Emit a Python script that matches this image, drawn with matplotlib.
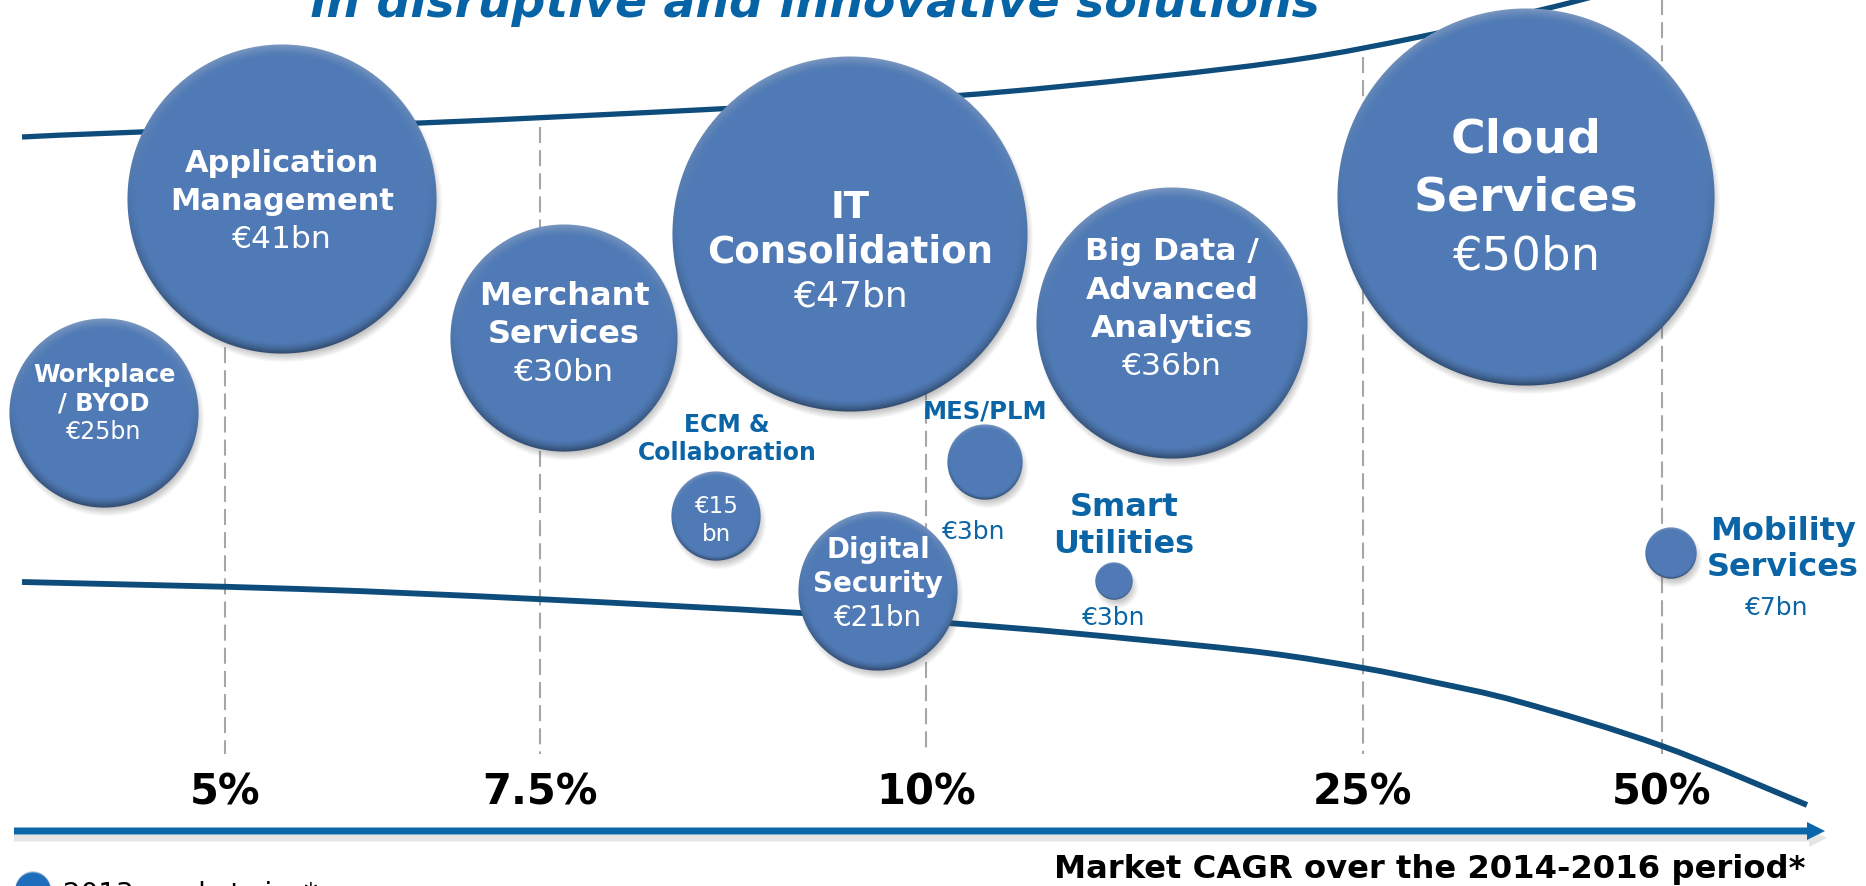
import numpy as np
import matplotlib.pyplot as plt
from matplotlib.patches import FancyArrow, PathPatch
from matplotlib.path import Path

plt.rcParams['font.family'] = ['DejaVu Sans']

W, H = 1866, 887

# ---- data ----
market_names = ['Workplace\n/ BYOD', 'Application\nManagement', 'Merchant\nServices',
                'IT\nConsolidation', 'ECM &\nCollaboration', 'Digital\nSecurity',
                'MES/PLM', 'Big Data /\nAdvanced\nAnalytics', 'Smart\nUtilities',
                'Cloud\nServices', 'Mobility\nServices']
market_size_bn = [25, 41, 30, 47, 15, 21, 3, 36, 3, 50, 7]
cagr_ticks = ['5%', '7.5%', '10%', '25%', '50%']

# ---- layout (slide pixels) ----
tick_x = [225, 540, 926, 1363, 1662]
bubble_x = [104, 282, 564, 850, 716, 878, 985, 1172, 1114, 1526, 1671]
bubble_y = [414, 200, 339, 235, 517, 592, 463, 324, 582, 198, 554]
bubble_r = [95, 155, 114, 178, 45, 80, 38, 136, 19, 189, 26]
# labels inside bubble: first line y, line step, name size, value size
inside = {0: (375, 28.5, 17.4, 17), 1: (163, 38.5, 22, 22.6), 2: (297, 38, 23, 22.6),
          3: (208, 44.5, 26.7, 26), 5: (550, 34, 20, 20), 7: (252, 38.3, 22.6, 22.6),
          9: (140, 58.5, 34, 33.5)}
# labels outside: name x, first line y, step, name size, value x, value y
outside = {4: (727, 425, 28, 17, None, None), 6: (985, 412, 0, 17.5, 974, 532),
           8: (1124, 508, 37, 23, 1114, 618), 10: (1783, 532, 36, 23, 1777, 608)}

upper_x = [22, 140, 420, 717, 952, 1153, 1300, 1419, 1553, 1650]
upper_y = [138, 133, 124, 110, 97, 78, 60, 38, 8, -18]
lower_x = [22, 300, 536, 801, 1000, 1133, 1267, 1363, 1433, 1520, 1662, 1807]
lower_y = [583, 590, 600, 614, 628, 640, 654, 669, 683, 703, 747, 806]

BUBBLE = (0.314, 0.482, 0.714)
BLUE = '#0a64a5'
CURVE = '#0e4c7b'


def smooth_path(xs, ys):
    # catmull-rom through the read points, drawn as bezier segments
    p = np.column_stack([xs, ys]).astype(float)
    verts, codes = [p[0]], [Path.MOVETO]
    for i in range(len(p) - 1):
        p0 = p[i - 1] if i > 0 else p[i]
        p3 = p[i + 2] if i + 2 < len(p) else p[i + 1]
        verts += [p[i] + (p[i + 1] - p0) / 6, p[i + 1] - (p3 - p[i]) / 6, p[i + 1]]
        codes += [Path.CURVE4] * 3
    return Path(verts, codes)


def bubble(ax, cx, cy, r, base, z):
    pad = 14
    half = r + pad
    n = int(2 * half)
    g = np.linspace(-half, half, n)
    gx, gy = np.meshgrid(g, g)
    ext = (cx - half, cx + half, cy + half, cy - half)
    # soft drop shadow
    ds = np.hypot(gx - 3, gy - 6)
    sh = np.zeros((n, n, 4))
    sh[..., :3] = 0.3
    sh[..., 3] = 0.35 * np.clip((r + 3 - ds) / 9, 0, 1)
    ax.imshow(sh, extent=ext, origin='upper', zorder=z, interpolation='bilinear')
    # body with a soft bevel: light top rim, darker bottom rim
    d = np.hypot(gx, gy)
    bw = min(12, 0.12 * r)
    rim = np.clip((d - (r - bw)) / bw, 0, 1) ** 1.6
    up = -gy / np.maximum(d, 1e-6)
    base = np.array(base)
    light = np.clip(up, 0, 1) * rim * 0.3
    dark = np.clip(-up, 0, 1) * rim * 0.35 + rim * 0.06
    rgb = base + (1 - base) * light[..., None]
    rgb = rgb * (1 - dark[..., None])
    alpha = np.clip(r - d + 0.5, 0, 1)
    img = np.dstack([np.clip(rgb, 0, 1), alpha])
    ax.imshow(img, extent=ext, origin='upper', zorder=z + 0.1, interpolation='bilinear')


fig = plt.figure(figsize=(W / 100, H / 100), dpi=100)
ax = fig.add_axes([0, 0, 1, 1])
ax.axis('off')

# title (cut at top of the slide)
ax.text(815, 17, 'in disruptive and innovative solutions', ha='center', va='baseline',
        fontsize=34, fontweight='bold', style='italic', color='#0563a6', zorder=1)

# trend curves
ax.add_patch(PathPatch(smooth_path(upper_x, upper_y), fill=False, edgecolor=CURVE,
                       lw=3.8, capstyle='butt', zorder=2))
ax.add_patch(PathPatch(smooth_path(lower_x, lower_y), fill=False, edgecolor=CURVE,
                       lw=4.2, capstyle='butt', zorder=2))

# dashed guides and CAGR labels
for x, lab in zip(tick_x, cagr_ticks):
    top = max(np.interp(x, upper_x, upper_y) + 10, 0)
    ax.plot([x, x], [top, 755], color='#a6a6a6', lw=1.5, dashes=(7.7, 3.4), zorder=1.5)
    ax.text(x, 793, lab, ha='center', va='center', fontsize=30, fontweight='bold',
            color='black', zorder=5)

# axis arrow with shadow
ax.add_patch(FancyArrow(14, 839, 1813, 0, width=7, head_width=18, head_length=18,
                        length_includes_head=True, color='#9a9a9a', alpha=0.25, lw=0, zorder=2))
ax.add_patch(FancyArrow(14, 832, 1811, 0, width=7, head_width=18, head_length=18,
                        length_includes_head=True, color='#0a66a8', lw=0, zorder=3))
ax.text(1805, 870, 'Market CAGR over the 2014-2016 period*', ha='right', va='center',
        fontsize=23.2, fontweight='bold', color='black', zorder=5)

# bubbles
for i, (x, y, r) in enumerate(zip(bubble_x, bubble_y, bubble_r)):
    bubble(ax, x, y, r, BUBBLE, 3 + i * 0.2)

# labels
for i, (y0, step, fs_name, fs_val) in inside.items():
    lines = market_names[i].split('\n')
    for k, line in enumerate(lines):
        ax.text(bubble_x[i], y0 + k * step, line, ha='center', va='center',
                fontsize=fs_name, fontweight='bold', color='white', zorder=10)
    ax.text(bubble_x[i], y0 + len(lines) * step, f'€{market_size_bn[i]}bn', ha='center',
            va='center', fontsize=fs_val, color='white', zorder=10)

for i, (nx, y0, step, fs, vx, vy) in outside.items():
    for k, line in enumerate(market_names[i].split('\n')):
        ax.text(nx, y0 + k * step, line, ha='center', va='center', fontsize=fs,
                fontweight='bold', color=BLUE, zorder=10)
    if vx is not None:
        ax.text(vx, vy, f'€{market_size_bn[i]}bn', ha='center', va='center',
                fontsize=18, color=BLUE, zorder=10)

# ECM value is split over two lines inside its small bubble
ax.text(bubble_x[4], 507, f'€{market_size_bn[4]}', ha='center', va='center',
        fontsize=16.6, color='white', zorder=10)
ax.text(bubble_x[4], 535, 'bn', ha='center', va='center', fontsize=16.6,
        color='white', zorder=10)

# legend (cut at bottom of the slide)
bubble(ax, 33, 891, 18, (0.11, 0.43, 0.74), 6)
ax.text(63, 903, '2013 market size*', ha='left', va='baseline', fontsize=20,
        color='black', zorder=10)

ax.set_xlim(0, W)
ax.set_ylim(H, 0)
fig.savefig('out.png', dpi=100)
